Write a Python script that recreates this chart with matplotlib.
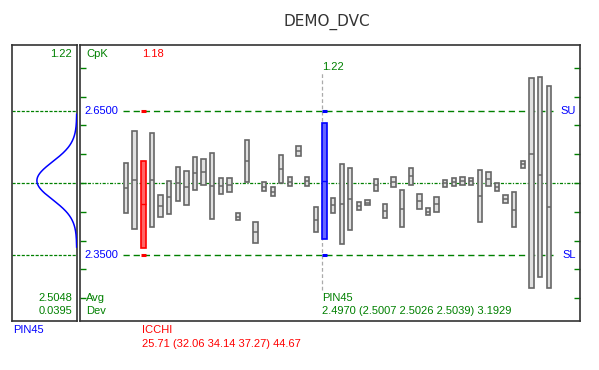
"""DEMO_DVC range chart with normal-curve side panel."""

import matplotlib
matplotlib.use("Agg")
import matplotlib.pyplot as plt
import numpy as np

# spec limits / centre
usl, lsl, nominal = 2.65, 2.35, 2.50

# per-subgroup ranges (max, median, min)
highs = [2.542, 2.608, 2.545, 2.605, 2.474, 2.505, 2.534, 2.526, 2.554, 2.550,
         2.563, 2.511, 2.511, 2.437, 2.590, 2.418, 2.502, 2.492, 2.559, 2.513,
         2.577, 2.513, 2.450, 2.626, 2.469, 2.540, 2.531, 2.460, 2.464, 2.508,
         2.456, 2.513, 2.485, 2.531, 2.477, 2.448, 2.471, 2.506, 2.511, 2.513,
         2.511, 2.527, 2.523, 2.500, 2.475, 2.481, 2.546, 2.719, 2.720, 2.703]
mids = [2.490, 2.506, 2.456, 2.506, 2.452, 2.471, 2.499, 2.492, 2.521, 2.523,
        2.494, 2.494, 2.496, 2.430, 2.546, 2.398, 2.492, 2.482, 2.529, 2.503,
        2.567, 2.504, 2.423, 2.504, 2.454, 2.456, 2.467, 2.452, 2.458, 2.496,
        2.441, 2.502, 2.446, 2.515, 2.462, 2.439, 2.456, 2.500, 2.502, 2.504,
        2.504, 2.473, 2.508, 2.492, 2.467, 2.444, 2.540, 2.561, 2.517, 2.450]
lows = [2.437, 2.404, 2.365, 2.408, 2.429, 2.435, 2.463, 2.454, 2.485, 2.496,
        2.425, 2.477, 2.481, 2.423, 2.502, 2.375, 2.483, 2.473, 2.500, 2.494,
        2.557, 2.494, 2.398, 2.384, 2.437, 2.372, 2.402, 2.444, 2.454, 2.483,
        2.427, 2.492, 2.408, 2.496, 2.446, 2.433, 2.439, 2.492, 2.494, 2.496,
        2.496, 2.418, 2.494, 2.483, 2.458, 2.408, 2.531, 2.282, 2.305, 2.282]

red_idx, red_name, red_cpk = 3, "ICCHI", "1.18"
red_stats = "25.71 (32.06 34.14 37.27) 44.67"
blue_idx, blue_name, blue_cpk = 24, "PIN45", "1.22"
blue_stats = "2.4970 (2.5007 2.5026 2.5039) 3.1929"
avg, dev, side_cpk = 2.5048, 0.0395, "1.22"

GREEN, BLUE, RED = "#008000", "#0000ff", "#ff0000"
FRAME = "#333333"
W, H = 599, 370


def px(x, y):
    return x / W, 1 - y / H


plt.rcParams["font.family"] = ["Liberation Sans", "DejaVu Sans"]
fig = plt.figure(figsize=(W / 100, H / 100), dpi=100)

ylim = (2.2125, 2.7875)
ax = fig.add_axes([80 / W, 1 - 321 / H, 500 / W, 276 / H])
side = fig.add_axes([12 / W, 1 - 321 / H, 65.5 / W, 276 / H])

for a in (ax, side):
    a.set_ylim(*ylim)
    for s in a.spines.values():
        s.set_color(FRAME)
        s.set_linewidth(1.2)
    a.set_xticks([])

# --- main panel ---
x = np.arange(1, len(highs) + 1)
highs_a, mids_a, lows_a = map(np.array, (highs, mids, lows))
ax.set_xlim(-4.33, 53.62)

ax.axhline(nominal, color=GREEN, lw=0.9, dashes=(2.5, 1.2, 1, 1.2), zorder=1)
for lim in (usl, lsl):
    ax.axhline(lim, xmin=0.086, xmax=0.946, color=GREEN, lw=1.0,
               dashes=(4.5, 2.8), zorder=1)

w = 0.5
grey = [i for i in x if i not in (red_idx, blue_idx)]
gi = np.array(grey) - 1
ax.bar(x[gi], highs_a[gi] - lows_a[gi], bottom=lows_a[gi], width=w,
       color="#e0e0e0", edgecolor="#666666", linewidth=1.2, zorder=3)
ax.hlines(mids_a[gi], x[gi] - w / 2, x[gi] + w / 2, color="#666666",
          lw=1.1, zorder=4)

wh = 0.58
for idx, fill, edge in ((red_idx, "#ff6666", RED), (blue_idx, "#6666ff", BLUE)):
    i = idx - 1
    ax.bar(x[i], highs_a[i] - lows_a[i], bottom=lows_a[i], width=wh,
           color=fill, edgecolor=edge, linewidth=1.2, zorder=3)
    ax.hlines(mids_a[i], x[i] - wh / 2, x[i] + wh / 2, color=edge, lw=1.0, zorder=4)
    ax.hlines([usl, lsl], x[i] - wh / 2, x[i] + wh / 2, color=edge, lw=2.2, zorder=4)

# marker line at the selected subgroup
ax.axvline(blue_idx - wh / 2, ymin=0.112, ymax=0.899, color="#aaaaaa",
           lw=0.9, dashes=(3, 2), zorder=2)

ax.set_yticks(np.arange(2.26, 2.75, 0.06))
ax.tick_params(axis="y", direction="in", left=True, right=True, length=4,
               width=1, color=GREEN, labelleft=False)

ytr = ax.get_yaxis_transform()
kw = dict(fontsize=8, va="center")
ax.text(0.008, usl, "2.6500", color=BLUE, transform=ytr, **kw)
ax.text(0.008, lsl, "2.3500", color=BLUE, transform=ytr, **kw)
ax.text(0.96, usl, "SU", color=BLUE, transform=ytr, **kw)
ax.text(0.964, lsl, "SL", color=BLUE, transform=ytr, **kw)

fig.text(*px(86, 54), "CpK", color=GREEN, **kw)
fig.text(*px(142, 54), red_cpk, color=RED, **kw)
fig.text(*px(322, 67), blue_cpk, color=GREEN, **kw)
fig.text(*px(86, 298), "Avg", color=GREEN, **kw)
fig.text(*px(86, 311), "Dev", color=GREEN, **kw)
fig.text(*px(322, 298), blue_name, color=GREEN, **kw)
fig.text(*px(322, 311.5), blue_stats, color=GREEN, **kw)
fig.text(*px(142, 330), red_name, color=RED, **kw)
fig.text(*px(142, 344), red_stats, color=RED, **kw)

# --- side panel: fitted normal curve ---
for lim in (usl, nominal, lsl):
    side.axhline(lim, color=GREEN, lw=0.9, dashes=(2.5, 1.2), zorder=1)
yy = np.linspace(avg - 3.5 * dev, avg + 3.5 * dev, 300)
pdf = np.exp(-0.5 * ((yy - avg) / dev) ** 2)
side.plot(-pdf, yy, color=BLUE, lw=1.1, zorder=3)
side.set_xlim(-1.625, 0.02)
side.set_yticks([])

fig.text(*px(72, 54), side_cpk, color=GREEN, ha="right", **kw)
fig.text(*px(72, 298), f"{avg:.4f}", color=GREEN, ha="right", **kw)
fig.text(*px(72, 311), f"{dev:.4f}", color=GREEN, ha="right", **kw)
fig.text(*px(13, 330), blue_name, color=BLUE, **kw)

fig.text(*px(327, 22), "DEMO_DVC", color=FRAME, fontsize=11,
         ha="center", va="center", family="DejaVu Sans")

fig.savefig("out.png", dpi=100)
